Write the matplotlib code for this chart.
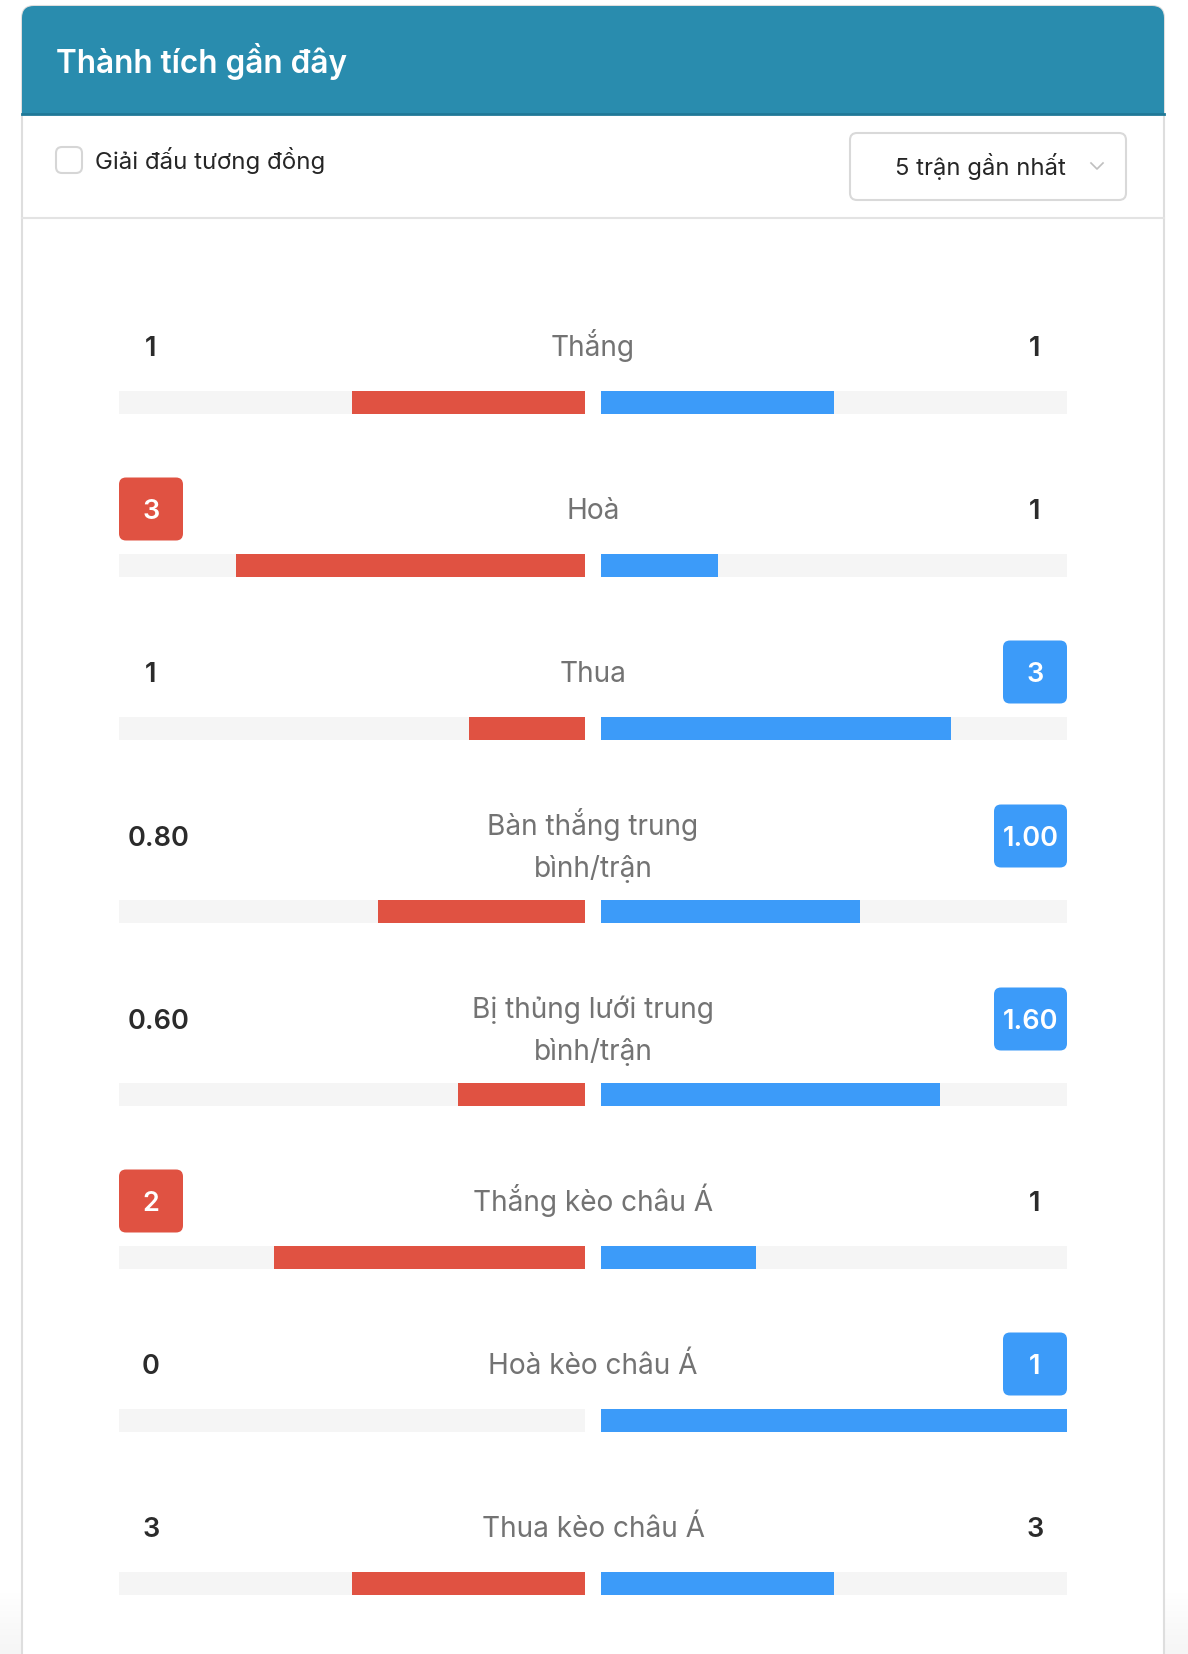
import matplotlib.pyplot as plt
from matplotlib.patches import FancyBboxPatch, Rectangle
import numpy as np

plt.rcParams['font.family'] = ['Inter', 'DejaVu Sans']

# nội dung
title = 'Thành tích gần đây'
filter_label = 'Giải đấu tương đồng'
dropdown_label = '5 trận gần nhất'

labels = ['Thắng', 'Hoà', 'Thua', 'Bàn thắng trung\nbình/trận',
          'Bị thủng lưới trung\nbình/trận', 'Thắng kèo châu Á',
          'Hoà kèo châu Á', 'Thua kèo châu Á']
home_vals = [1, 3, 1, 0.80, 0.60, 2, 0, 3]
away_vals = [1, 1, 3, 1.00, 1.60, 1, 1, 3]
home_text = ['1', '3', '1', '0.80', '0.60', '2', '0', '3']
away_text = ['1', '1', '3', '1.00', '1.60', '1', '1', '3']

RED = '#e05242'
BLUE = '#3c9bf9'
TRACK = '#f5f5f5'
HEADER = '#298cae'
BORDER = '#dedede'

W, H = 1188, 1654
fig = plt.figure(figsize=(W / 100, H / 100), dpi=100)
ax = fig.add_axes([0, 0, 1, 1])
ax.set_xlim(0, W)
ax.set_ylim(H, 0)
ax.axis('off')

# bóng mờ phía dưới
grad = np.linspace(0, 1, 64).reshape(-1, 1)
ax.imshow(grad, extent=[0, W, H, 1590], cmap='Greys', vmin=0, vmax=12,
          aspect='auto', zorder=0)

# khung thẻ
card_l, card_r = 22, 1164
ax.add_patch(FancyBboxPatch((card_l, 6), card_r - card_l, 1800,
                            boxstyle='round,pad=0,rounding_size=12',
                            facecolor='white', edgecolor=BORDER, lw=1.5, zorder=1))
ax.add_patch(FancyBboxPatch((card_l, 6), card_r - card_l, 60,
                            boxstyle='round,pad=0,rounding_size=12',
                            facecolor=HEADER, edgecolor='none', zorder=2))
ax.add_patch(Rectangle((card_l, 40), card_r - card_l, 74, facecolor=HEADER,
                       edgecolor='none', zorder=2))
ax.plot([card_l, card_r], [114, 114], color='#1f7897', lw=2, zorder=3)
ax.text(56, 61, title, color='white', fontsize=22.7, fontweight='semibold',
        va='center', ha='left', zorder=3)

# bộ lọc
ax.add_patch(FancyBboxPatch((56, 147), 26, 26,
                            boxstyle='round,pad=0,rounding_size=6',
                            facecolor='white', edgecolor='#d6d6d6', lw=1.5, zorder=3))
ax.text(95, 160, filter_label, color='#262626', fontsize=17.3, va='center',
        ha='left', zorder=3)

ax.add_patch(FancyBboxPatch((850, 133), 276, 67,
                            boxstyle='round,pad=0,rounding_size=7',
                            facecolor='white', edgecolor='#d9d9d9', lw=1.5, zorder=3))
ax.text(980, 167, dropdown_label, color='#262626', fontsize=17.2, va='center',
        ha='center', zorder=3)
ax.plot([1091, 1097, 1103], [163, 169, 163], color='#bfbfbf', lw=1.2, zorder=3)

ax.plot([card_l, card_r], [218, 218], color='#e3e3e3', lw=1.5, zorder=3)

# các hàng
track_l0, track_r1 = 119, 1067
mid = 593
gap = 8
TW = (track_r1 - track_l0) / 2 - gap  # độ dài mỗi nửa
bar_h = 23

bar_y = 402 - 163
for i, lab in enumerate(labels):
    lines = lab.split('\n')
    nlines = len(lines)
    bar_y += 163 + 20 * (nlines - 1)
    num_y = bar_y - 56 - 19 * (nlines - 1)
    first_y = num_y - 11 * (nlines - 1)

    # nền
    ax.barh(bar_y, TW, left=track_l0, height=bar_h, color=TRACK, zorder=3)
    ax.barh(bar_y, TW, left=mid + gap, height=bar_h, color=TRACK, zorder=3)

    total = home_vals[i] + away_vals[i]
    if total > 0:
        wl = home_vals[i] / total * TW
        wr = away_vals[i] / total * TW
        ax.barh(bar_y, -wl, left=mid - gap, height=bar_h, color=RED, zorder=4)
        ax.barh(bar_y, wr, left=mid + gap, height=bar_h, color=BLUE, zorder=4)

    for k, line in enumerate(lines):
        ax.text(mid, first_y + 42 * k + 10, line, color='#737373', fontsize=20.2,
                ha='center', va='baseline', zorder=5)

    # số liệu hai bên
    for side, txt, val, other, col in (('L', home_text[i], home_vals[i], away_vals[i], RED),
                                        ('R', away_text[i], away_vals[i], home_vals[i], BLUE)):
        bw = 73 if '.' in txt else 64
        x0 = track_l0 if side == 'L' else track_r1 - bw
        cx = x0 + bw / 2
        if val > other:
            ax.add_patch(FancyBboxPatch((x0, num_y - 31.5), bw, 63,
                                        boxstyle='round,pad=0,rounding_size=7',
                                        facecolor=col, edgecolor='none', zorder=5))
            tc = 'white'
        else:
            tc = '#2b2b2b'
            if '.' in txt and side == 'L':
                cx += 3
        ax.text(cx, num_y + 3, txt, color=tc, fontsize=19.5, fontweight='semibold',
                ha='center', va='center', zorder=6)

fig.savefig('out.png', dpi=100)
